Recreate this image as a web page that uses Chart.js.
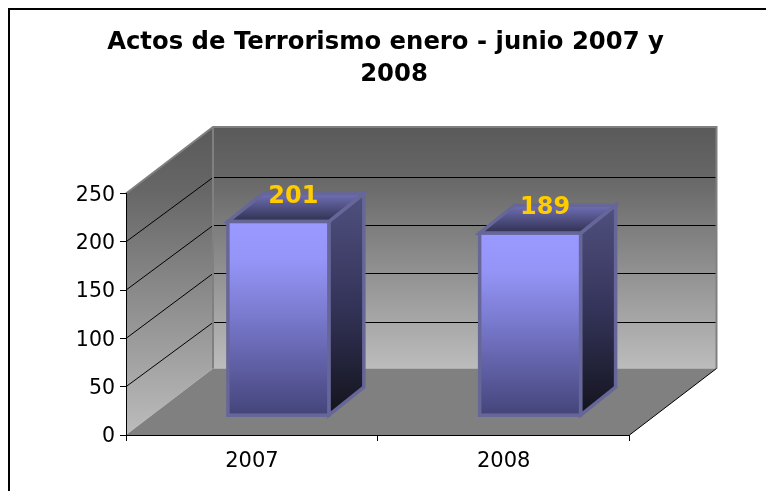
<!DOCTYPE html>
<html>
<head>
<meta charset="utf-8">
<style>
  html, body { margin: 0; padding: 0; background: #fff; }
  #marco { position: absolute; left: 8px; top: 8px; width: 758px; height: 483px; border-left: 2px solid #000; border-top: 2px solid #000; box-sizing: border-box; pointer-events: none; }
  canvas { display: block; }
</style>
<script src="https://cdn.jsdelivr.net/npm/chart.js@4"></script>
</head>
<body>
<canvas id="grafico" width="766" height="491"></canvas>
<div id="marco"></div>
<script>
const titulo = ["Actos de Terrorismo enero - junio 2007 y", "2008"];
const anios = ["2007", "2008"];
const actos = [201, 189];

// Profundidad de las paredes y de las barras
const fondoX = 87;
const fondoY = 66.5;
const rejillaY = 65;
const barraX = 35;
const barraY = 28;
const avanceX = 26.5;
const avanceY = 19.3;
const bordeBarra = "#666699";

function poligono(ctx, puntos, relleno, borde, grosor) {
  ctx.beginPath();
  puntos.forEach((p, i) => i ? ctx.lineTo(p[0], p[1]) : ctx.moveTo(p[0], p[1]));
  ctx.closePath();
  if (relleno) { ctx.fillStyle = relleno; ctx.fill(); }
  if (borde) {
    ctx.strokeStyle = borde;
    ctx.lineWidth = grosor;
    ctx.lineJoin = "miter";
    ctx.stroke();
  }
}

function degradado(ctx, y0, y1, paradas) {
  const g = ctx.createLinearGradient(0, y0, 0, y1);
  paradas.forEach(p => g.addColorStop(p[0], p[1]));
  return g;
}

// Paredes, suelo y rejilla en 3D
const paredes = {
  id: "paredes",
  beforeDraw(chart) {
    const { ctx, chartArea: a, scales } = chart;
    const gris = [[0, "#5a5a5a"], [0.2, "#666666"], [1, "#bcbcbc"]];
    ctx.save();
    // pared izquierda
    poligono(ctx, [[a.left, a.bottom], [a.left + fondoX, a.bottom - fondoY], [a.left + fondoX, a.top - fondoY], [a.left, a.top]],
      degradado(ctx, a.top - fondoY, a.bottom, gris));
    // pared del fondo
    poligono(ctx, [[a.left + fondoX, a.top - fondoY], [a.right + fondoX, a.top - fondoY], [a.right + fondoX, a.bottom - fondoY], [a.left + fondoX, a.bottom - fondoY]],
      degradado(ctx, a.top - fondoY, a.bottom - fondoY, gris));
    // suelo
    poligono(ctx, [[a.left, a.bottom], [a.left + fondoX, a.bottom - fondoY], [a.right + fondoX, a.bottom - fondoY], [a.right, a.bottom]], "#808080");

    // rejilla
    ctx.strokeStyle = "#000";
    ctx.lineWidth = 1;
    scales.y.ticks.forEach(t => {
      if (t.value === 0 || t.value === 250) return;
      const y = scales.y.getPixelForValue(t.value);
      const yFondo = Math.round(y - rejillaY) + 0.5;
      ctx.beginPath();
      ctx.moveTo(a.left, y);
      ctx.lineTo(a.left + fondoX, yFondo);
      ctx.lineTo(a.right + fondoX, yFondo);
      ctx.stroke();
    });

    // bordes grises
    ctx.strokeStyle = "#808080";
    ctx.lineWidth = 2;
    ctx.beginPath();
    ctx.moveTo(a.left, a.top);
    ctx.lineTo(a.left + fondoX, a.top - fondoY);
    ctx.lineTo(a.right + fondoX, a.top - fondoY);
    ctx.lineTo(a.right + fondoX, a.bottom - fondoY);
    ctx.moveTo(a.left + fondoX, a.top - fondoY);
    ctx.lineTo(a.left + fondoX, a.bottom - fondoY);
    ctx.stroke();

    // borde negro del suelo
    ctx.strokeStyle = "#000";
    ctx.lineWidth = 1;
    ctx.beginPath();
    ctx.moveTo(a.right, a.bottom);
    ctx.lineTo(a.right + fondoX, a.bottom - fondoY);
    ctx.stroke();

    // titulo, cada linea con su propio centro
    ctx.fillStyle = "#000";
    ctx.font = "bold 24.3px 'DejaVu Sans'";
    ctx.textAlign = "center";
    ctx.textBaseline = "middle";
    ctx.fillText(titulo[0], 385.5, 43);
    ctx.fillText(titulo[1], 394, 75);
    ctx.restore();
  }
};

// Barras desplazadas hacia el fondo, con cara lateral, tapa y etiqueta
const barras3d = {
  id: "barras3d",
  beforeDatasetDraw(chart) {
    const { ctx } = chart;
    chart.getDatasetMeta(0).data.forEach(b => {
      const izq = b.x - b.width / 2 + avanceX;
      const der = b.x + b.width / 2 + avanceX;
      const arriba = b.y - avanceY;
      const abajo = b.base - avanceY;
      poligono(ctx, [[der, arriba], [der + barraX, arriba - barraY], [der + barraX, abajo - barraY], [der, abajo]],
        degradado(ctx, arriba - barraY, abajo, [[0, "#50507f"], [0.5, "#34345a"], [1, "#13131c"]]), bordeBarra, 3.5);
      poligono(ctx, [[izq, arriba], [izq + barraX, arriba - barraY], [der + barraX, arriba - barraY], [der, arriba]],
        degradado(ctx, arriba - barraY, arriba, [[0, "#7070b8"], [1, "#30304f"]]), bordeBarra, 3.5);
    });
    ctx.save();
    ctx.translate(avanceX, -avanceY);
  },
  afterDatasetDraw(chart) {
    const { ctx } = chart;
    const meta = chart.getDatasetMeta(0);
    // borde de la cara frontal, centrado sobre el contorno de la barra
    meta.data.forEach(b => {
      ctx.strokeStyle = bordeBarra;
      ctx.lineWidth = 3.5;
      ctx.strokeRect(b.x - b.width / 2, b.y, b.width, b.base - b.y);
    });
    ctx.restore();
    ctx.save();
    ctx.fillStyle = "#ffcc00";
    ctx.font = "bold 24px 'DejaVu Sans'";
    ctx.textAlign = "center";
    ctx.textBaseline = "middle";
    meta.data.forEach((b, i) => {
      ctx.fillText(String(actos[i]), b.x + avanceX + 15, b.y - avanceY - 25);
    });
    ctx.restore();
  }
};

new Chart(document.getElementById("grafico"), {
  type: "bar",
  data: {
    labels: anios,
    datasets: [{
      data: actos,
      clip: false,
      barPercentage: 0.401,
      categoryPercentage: 1,
      borderWidth: 0,
      backgroundColor(c) {
        const { ctx, chartArea, scales } = c.chart;
        if (!chartArea) return "#9999ff";
        const arriba = scales.y.getPixelForValue(c.raw);
        return degradado(ctx, arriba, scales.y.getPixelForValue(0),
          [[0, "#9999ff"], [0.2, "#9595f8"], [0.5, "#7878cc"], [1, "#44447a"]]);
      }
    }]
  },
  options: {
    responsive: false,
    animation: false,
    layout: { padding: { top: 193.5, left: 0, right: 136.5, bottom: 0 } },
    plugins: {
      legend: { display: false },
      tooltip: { enabled: false },
      title: { display: false }
    },
    scales: {
      x: {
        afterFit(s) { s.height = 56; },
        grid: { drawOnChartArea: false, color: "#000", tickLength: 6, offset: true },
        border: { color: "#000" },
        ticks: { padding: 8, color: "#000", font: { family: "'DejaVu Sans'", size: 21 } }
      },
      y: {
        min: 0,
        max: 250,
        afterFit(s) { s.width = 126; },
        grid: { drawOnChartArea: false, color: "#000", tickLength: 6 },
        border: { color: "#000" },
        ticks: { stepSize: 50, padding: 5, labelOffset: 2, color: "#000", font: { family: "'DejaVu Sans'", size: 20.5 } }
      }
    }
  },
  plugins: [paredes, barras3d]
});
</script>
</body>
</html>
